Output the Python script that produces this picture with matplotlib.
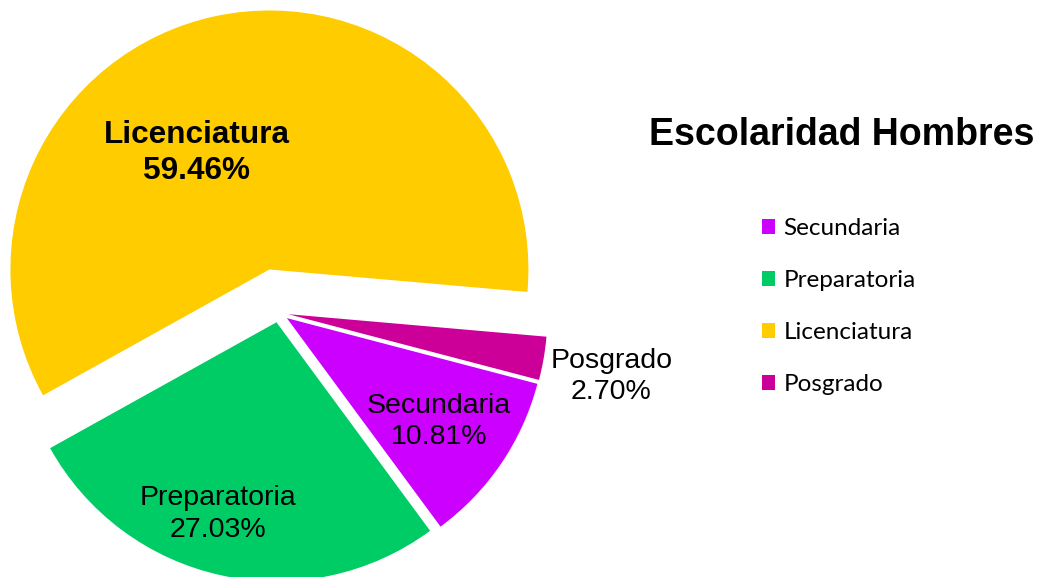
import numpy as np
import matplotlib.pyplot as plt

categorias = ['Secundaria', 'Preparatoria', 'Licenciatura', 'Posgrado']
porcentajes = [10.81, 27.03, 59.46, 2.70]
colores = ['#CC00FF', '#00CC66', '#FFCC00', '#CC0099']

W, H = 1040, 577
R = 259
# desplazamiento de cada rebanada en pixeles
separacion = [10, 10, 44, 10]

fig = plt.figure(figsize=(W / 100, H / 100), dpi=100)
ax = fig.add_axes([0, 0, 1, 1])

centro = (278.6, H - 312.5)
wedges, _ = ax.pie(porcentajes, colors=colores, explode=separacion,
                   startangle=-14.7, counterclock=False,
                   center=centro, radius=R)
ax.set_xlim(0, W)
ax.set_ylim(0, H)
ax.set_aspect('equal')
ax.axis('off')

# etiquetas de datos (posiciones en pixeles de la imagen)
pos_etiquetas = [(439, 421.5), (218, 514), (196.5, 153), (611.5, 376.5)]
for i, (x, y) in enumerate(pos_etiquetas):
    txt = '%s\n%.2f%%' % (categorias[i], porcentajes[i])
    if categorias[i] == 'Licenciatura':
        ax.text(x, H - y, txt, ha='center', va='center', fontsize=22.7,
                fontweight='bold', family='Liberation Sans', linespacing=1.3)
    else:
        ax.text(x, H - y, txt, ha='center', va='center', fontsize=20.5,
                family='Liberation Sans', linespacing=1.28)

fig.text(842 / W, 1 - 135 / H, 'Escolaridad Hombres', ha='center', va='center',
         fontsize=27, fontweight='bold', family='Liberation Sans')

leg = fig.legend(wedges, categorias, loc='upper left',
                 bbox_to_anchor=(762 / W, 1 - 218 / H),
                 frameon=False, borderpad=0, borderaxespad=0,
                 handlelength=0.55, handleheight=0.55,
                 handletextpad=0.33, labelspacing=1.275,
                 prop={'family': 'Lato', 'size': 17.5})

fig.savefig('out.png', dpi=100)
